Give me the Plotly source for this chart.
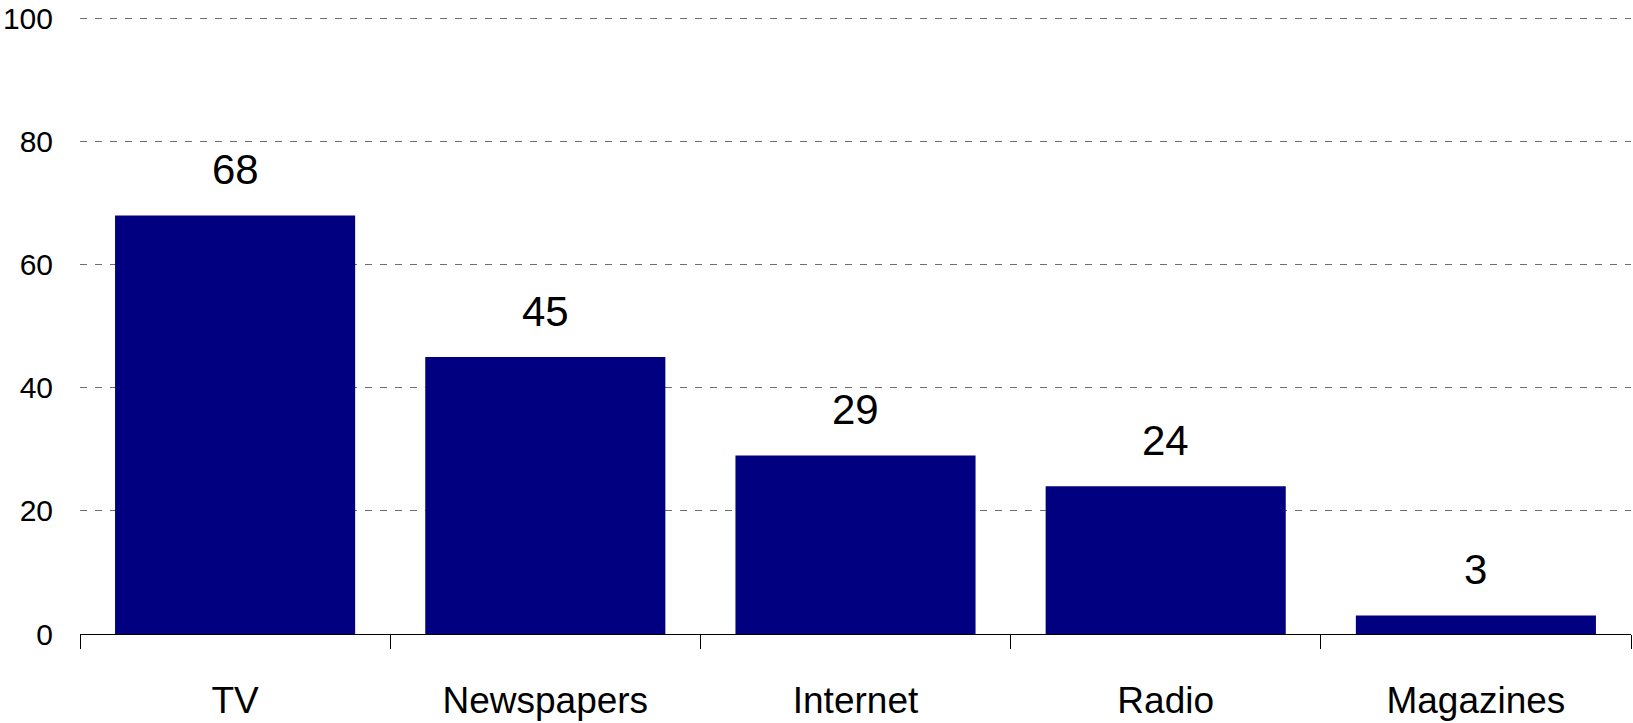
import plotly.graph_objects as go

# Media sources, share of respondents (%)
categories = ["TV", "Newspapers", "Internet", "Radio", "Magazines"]
values = [68, 45, 29, 24, 3]
y_ticks = [0, 20, 40, 60, 80, 100]

FONT = "Liberation Sans, Arial, sans-serif"
NAVY = "#000080"

fig = go.Figure(
    go.Bar(
        x=categories,
        y=values,
        marker=dict(color=NAVY, line=dict(width=0)),
        hoverinfo="skip",
    )
)

# Value labels above each bar
for cat, val in zip(categories, values):
    fig.add_annotation(
        x=cat,
        y=val,
        text=str(val),
        showarrow=False,
        yanchor="middle",
        yshift=46,
        font=dict(family=FONT, size=42, color="black"),
    )

fig.update_layout(
    width=1633,
    height=723,
    margin=dict(l=80, r=2, t=16, b=89),
    paper_bgcolor="white",
    plot_bgcolor="white",
    bargap=0.226,
    showlegend=False,
    font=dict(family=FONT, color="black"),
)

fig.update_xaxes(
    type="category",
    showline=True,
    linecolor="black",
    linewidth=1,
    ticks="outside",
    tickson="boundaries",
    ticklen=14,
    tickwidth=1,
    tickcolor="black",
    tickfont=dict(family=FONT, size=37, color="black"),
    ticklabelstandoff=34,
    showgrid=False,
    zeroline=False,
)

fig.update_yaxes(
    range=[0, 100.4],
    tickvals=y_ticks,
    ticktext=[str(v) for v in y_ticks],
    showline=False,
    ticks="",
    tickfont=dict(family=FONT, size=30, color="black"),
    ticklabelstandoff=26,
    showgrid=True,
    gridcolor="#6e6e6e",
    gridwidth=1,
    griddash="7px,8px",
    zeroline=False,
)

fig.write_html("out.html")
